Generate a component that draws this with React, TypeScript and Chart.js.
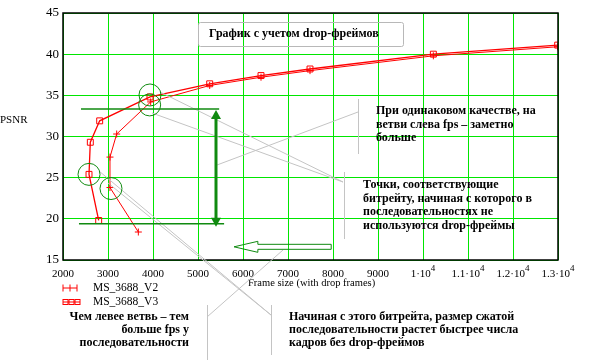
import { useEffect, useRef } from 'react';
import { Chart, registerables } from 'chart.js';

Chart.register(...registerables);

// ---- data ----
const frameV2 = [3674, 3044, 3044, 3193, 3948, 5260, 6400, 7489, 10230, 12993];
const psnrV2 = [18.4, 23.8, 27.5, 30.3, 34.2, 36.2, 37.2, 38.0, 39.8, 40.9];
const frameV3 = [2793, 2578, 2607, 2815, 3933, 5260, 6400, 7489, 10230, 12993];
const psnrV3 = [19.8, 25.4, 29.3, 31.9, 34.8, 36.4, 37.4, 38.2, 40.0, 41.1];

const xTickValues = [2000, 3000, 4000, 5000, 6000, 7000, 8000, 9000, 10000, 11000, 12000, 13000];
const xTickBase = ['2000', '3000', '4000', '5000', '6000', '7000', '8000', '9000', '1·10', '1.1·10', '1.2·10', '1.3·10'];
const xTickExp = ['', '', '', '', '', '', '', '', '4', '4', '4', '4'];
const yTickValues = [15, 20, 25, 30, 35, 40, 45];

const seriesNames = ['MS_3688_V2', 'MS_3688_V3'];
const chartTitle = 'График с учетом drop-фреймов';
const xAxisTitle = 'Frame size (with drop frames)';
const yAxisTitle = 'PSNR';
const noteRight1 = ['При одинаковом качестве, на', 'ветви слева fps – заметно', 'больше'];
const noteRight2 = ['Точки, соответствующие', 'битрейту, начиная с которого в', 'последовательностях не', 'используются drop-фреймы'];
const noteBottomLeft = ['Чем левее ветвь – тем', 'больше fps у', 'последовательности'];
const noteBottomRight = ['Начиная с этого битрейта, размер сжатой', 'последовательности растет быстрее числа', 'кадров без drop-фреймов'];

// horizontal marker levels and arrow positions (data units)
const levelHigh = 33.35;
const levelLow = 19.4;
const arrowX = 5400;

const SERIF = '"Liberation Serif", "Times New Roman", serif';
const RED = '#ff0000';
const DKGREEN = '#108a10';
const GRAY = '#c4c4c4';

const overlay = {
  id: 'overlay',
  afterDraw(chart: any) {
    const { ctx, chartArea: a, scales } = chart;
    const xs = scales.x;
    const ys = scales.y;
    const X = (v: number) => xs.getPixelForValue(v);
    const Y = (v: number) => ys.getPixelForValue(v);
    ctx.save();

    // frame
    ctx.strokeStyle = '#000';
    ctx.lineWidth = 1.5;
    ctx.strokeRect(a.left, a.top, a.right - a.left, a.bottom - a.top);

    // tick labels
    ctx.fillStyle = '#000';
    ctx.textBaseline = 'middle';
    ctx.font = `13px ${SERIF}`;
    ctx.textAlign = 'right';
    yTickValues.forEach((v) => ctx.fillText(String(v), a.left - 4, Y(v)));
    xTickValues.forEach((v, i) => {
      const base = xTickBase[i];
      const exp = xTickExp[i];
      ctx.font = `11px ${SERIF}`;
      const bw = ctx.measureText(base).width;
      ctx.font = `9px ${SERIF}`;
      const ew = exp ? ctx.measureText(exp).width : 0;
      const start = X(v) - (bw + ew) / 2;
      ctx.textAlign = 'left';
      ctx.font = `11px ${SERIF}`;
      ctx.fillText(base, start, a.bottom + 14);
      if (exp) {
        ctx.font = `9px ${SERIF}`;
        ctx.fillText(exp, start + bw, a.bottom + 9);
      }
    });

    // axis titles
    ctx.font = `11px ${SERIF}`;
    ctx.textAlign = 'left';
    ctx.fillText(yAxisTitle, 0, 120);
    ctx.font = `10.5px ${SERIF}`;
    ctx.fillText(xAxisTitle, 248, a.bottom + 23);

    // gray leader lines
    ctx.strokeStyle = GRAY;
    ctx.lineWidth = 1;
    const seg = (x1: number, y1: number, x2: number, y2: number) => {
      ctx.beginPath();
      ctx.moveTo(x1, y1);
      ctx.lineTo(x2, y2);
      ctx.stroke();
    };
    seg(358.5, 99, 358.5, 154);
    seg(344.5, 172, 344.5, 239);
    seg(207.5, 305, 207.5, 360);
    seg(271.5, 305, 271.5, 355);
    seg(160, 92, 343, 182);
    seg(152, 113, 343, 182);
    seg(217, 165, 358, 112);
    seg(99, 171, 271, 315);
    seg(108, 183, 271, 315);
    seg(207, 317, 283, 250);

    // circles around key points
    ctx.strokeStyle = DKGREEN;
    ctx.lineWidth = 1;
    const circ = (px: number, py: number) => {
      ctx.beginPath();
      ctx.arc(px, py, 11, 0, Math.PI * 2);
      ctx.stroke();
    };
    circ(X(frameV3[1]), Y(psnrV3[1]));
    circ(X(frameV2[1]) + 1, Y(psnrV2[1]) + 1);
    circ(X(frameV3[4]), Y(psnrV3[4]) - 2);
    circ(X(frameV2[4]) - 1, Y(psnrV2[4]) + 3);

    // horizontal level lines
    ctx.strokeStyle = DKGREEN;
    ctx.lineWidth = 1.5;
    seg(X(2400), Y(levelHigh), X(5470), Y(levelHigh));
    seg(X(2355), Y(levelLow), X(5580), Y(levelLow));

    // vertical double arrow
    const ax = X(arrowX);
    const yt = Y(levelHigh) + 1;
    const yb = Y(levelLow) + 3;
    ctx.lineWidth = 3;
    seg(ax, yt + 8, ax, yb - 8);
    ctx.fillStyle = DKGREEN;
    ctx.beginPath();
    ctx.moveTo(ax, yt);
    ctx.lineTo(ax - 5, yt + 9);
    ctx.lineTo(ax + 5, yt + 9);
    ctx.closePath();
    ctx.fill();
    ctx.beginPath();
    ctx.moveTo(ax, yb);
    ctx.lineTo(ax - 5, yb - 9);
    ctx.lineTo(ax + 5, yb - 9);
    ctx.closePath();
    ctx.fill();

    // hollow arrow pointing left
    const hy = Y(16.6);
    const tip = X(5800);
    const hb = X(6330);
    const end = X(7960);
    ctx.lineWidth = 1;
    ctx.beginPath();
    ctx.moveTo(tip, hy);
    ctx.lineTo(hb, hy - 5.5);
    ctx.lineTo(hb, hy - 2.5);
    ctx.lineTo(end, hy - 2.5);
    ctx.lineTo(end, hy + 2.5);
    ctx.lineTo(hb, hy + 2.5);
    ctx.lineTo(hb, hy + 5.5);
    ctx.closePath();
    ctx.stroke();

    // title box
    ctx.strokeStyle = '#b8b8b8';
    ctx.lineWidth = 1;
    ctx.beginPath();
    (ctx as any).roundRect(198.5, 22.5, 205, 24, 2);
    ctx.stroke();
    ctx.fillStyle = '#000';
    ctx.font = `bold 12px ${SERIF}`;
    ctx.textAlign = 'left';
    ctx.fillText(chartTitle, 209, 34);

    // notes
    const lines = (arr: string[], x: number, y0: number, dy: number, align: CanvasTextAlign) => {
      ctx.textAlign = align;
      arr.forEach((t, i) => ctx.fillText(t, x, y0 + i * dy));
    };
    lines(noteRight1, 376, 111, 13.5, 'left');
    lines(noteRight2, 363, 185, 13.5, 'left');
    lines(noteBottomLeft, 189, 317, 13.2, 'right');
    lines(noteBottomRight, 289, 317, 13.2, 'left');

    // legend
    ctx.strokeStyle = RED;
    ctx.lineWidth = 1;
    const ly1 = 288;
    const ly2 = 302;
    seg(63, ly1, 77, ly1);
    [63, 70, 77].forEach((px) => {
      seg(px, ly1 - 3.5, px, ly1 + 3.5);
    });
    seg(63, ly2, 80, ly2);
    [65.5, 71.5, 77.5].forEach((px) => {
      ctx.strokeRect(px - 2.5, ly2 - 2.5, 5, 5);
    });
    ctx.fillStyle = '#000';
    ctx.font = `11.5px ${SERIF}`;
    ctx.textAlign = 'left';
    ctx.fillText(seriesNames[0], 93, ly1);
    ctx.fillText(seriesNames[1], 93, ly2);

    ctx.restore();
  },
};

export default function App() {
  const ref = useRef<HTMLCanvasElement | null>(null);

  useEffect(() => {
    document.body.style.margin = '0';
    if (!ref.current) return;
    const chart = new Chart(ref.current, {
      type: 'scatter',
      data: {
        datasets: [
          {
            label: seriesNames[0],
            data: frameV2.map((x, i) => ({ x, y: psnrV2[i] })),
            showLine: true,
            borderColor: RED,
            backgroundColor: 'rgba(0,0,0,0)',
            borderWidth: 1,
            pointStyle: 'cross',
            pointRadius: 3.5,
            pointBorderColor: RED,
            pointBorderWidth: 1,
          },
          {
            label: seriesNames[1],
            data: frameV3.map((x, i) => ({ x, y: psnrV3[i] })),
            showLine: true,
            borderColor: RED,
            backgroundColor: 'rgba(0,0,0,0)',
            borderWidth: 1.3,
            pointStyle: 'rect',
            pointRadius: 4.2,
            pointBorderColor: RED,
            pointBorderWidth: 1,
          },
        ],
      },
      options: {
        responsive: false,
        animation: false,
        layout: { padding: { left: 63, right: 36, top: 13, bottom: 100 } },
        plugins: {
          legend: { display: false },
          tooltip: { enabled: false },
          title: { display: false },
        },
        scales: {
          x: {
            type: 'linear',
            min: 2000,
            max: 13000,
            afterBuildTicks: (s: any) => {
              s.ticks = xTickValues.map((v) => ({ value: v }));
            },
            ticks: { display: false },
            grid: { color: '#00e600', lineWidth: 1, drawTicks: false },
            border: { display: false },
          },
          y: {
            type: 'linear',
            min: 15,
            max: 45,
            afterBuildTicks: (s: any) => {
              s.ticks = yTickValues.map((v) => ({ value: v }));
            },
            ticks: { display: false },
            grid: { color: '#00e600', lineWidth: 1, drawTicks: false },
            border: { display: false },
          },
        },
      },
      plugins: [overlay],
    });
    return () => chart.destroy();
  }, []);

  return <canvas ref={ref} width={594} height={360} style={{ display: 'block', width: 594, height: 360 }} />;
}
